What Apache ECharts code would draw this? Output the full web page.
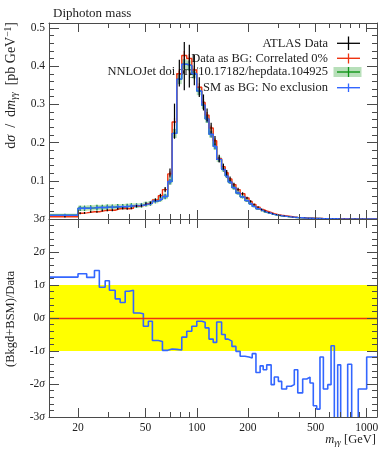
<!DOCTYPE html>
<html><head><meta charset="utf-8">
<script src="https://cdn.jsdelivr.net/npm/echarts@6/dist/echarts.min.js"></script>
<style>html,body{margin:0;padding:0;background:#fff}#c{width:389px;height:450px}</style>
</head><body><div id="c"></div>
<script>
// ---- data ----
const binEdges = [13.5, 20, 21.2, 22.5, 25, 26.7, 28.9, 30.6, 33.1, 35.4, 37.9, 40, 42.4, 46, 48.5, 51.9, 54.8, 59.4, 62.8, 67.5, 71.6, 76.3, 81.6, 87.3, 93.5, 100, 107, 112, 118, 125, 131, 140, 147, 153, 161, 170, 180, 192, 203, 212, 223, 236, 246, 258, 274, 286, 302, 316, 338, 359, 375, 393, 420, 444, 464, 485, 508, 531, 556, 590, 617, 645, 675, 703, 773, 816, 892, 1000, 1150];
const atlasData = [0.006, 0.015, 0.016, 0.019, 0.019, 0.022, 0.023, 0.023, 0.027, 0.028, 0.027, 0.028, 0.034, 0.035, 0.040, 0.042, 0.050, 0.061, 0.077, 0.120, 0.256, 0.382, 0.400, 0.400, 0.390, 0.345, 0.305, 0.272, 0.238, 0.205, 0.158, 0.137, 0.121, 0.105, 0.090, 0.077, 0.066, 0.055, 0.046, 0.038, 0.031, 0.025, 0.021, 0.017, 0.014, 0.0115, 0.0097, 0.0081, 0.0065, 0.0053, 0.0043, 0.0036, 0.0029, 0.0024, 0.0021, 0.0018, 0.0016, 0.0012, 0.0011, 0.0009, 0.0007, 0.0007, 0.0005, 0.00048, 0.00035, 0.00032, 0.00024, 0.00018];
const atlasErr = [0.002, 0.0025, 0.0025, 0.0025, 0.0025, 0.0025, 0.0025, 0.0025, 0.0025, 0.0025, 0.0025, 0.0025, 0.003, 0.003, 0.003, 0.003, 0.004, 0.005, 0.007, 0.012, 0.046, 0.035, 0.063, 0.056, 0.040, 0.026, 0.021, 0.017, 0.014, 0.012, 0.010, 0.008, 0.007, 0.006, 0.005, 0.0045, 0.004, 0.0035, 0.003, 0.0025, 0.0022, 0.002, 0.0018, 0.0015, 0.0013, 0.0011, 0.001, 0.0009, 0.0008, 0.0007, 0.0006, 0.0005, 0.0005, 0.0004, 0.0004, 0.0004, 0.0003, 0.0003, 0.0003, 0.0003, 0.0003, 0.0003, 0.0002, 0.0002, 0.0002, 0.0002, 0.0002, 0.0001];
const dataAsBG = [0.006, 0.015, 0.016, 0.019, 0.019, 0.022, 0.023, 0.023, 0.027, 0.028, 0.027, 0.028, 0.034, 0.035, 0.040, 0.042, 0.050, 0.061, 0.077, 0.118, 0.254, 0.380, 0.428, 0.420, 0.390, 0.345, 0.305, 0.272, 0.238, 0.205, 0.158, 0.137, 0.121, 0.105, 0.090, 0.077, 0.066, 0.055, 0.046, 0.038, 0.031, 0.025, 0.021, 0.017, 0.014, 0.0115, 0.0097, 0.0081, 0.0065, 0.0053, 0.0043, 0.0036, 0.0029, 0.0024, 0.0021, 0.0018, 0.0016, 0.0012, 0.0011, 0.0009, 0.0007, 0.0007, 0.0005, 0.00048, 0.00035, 0.00032, 0.00024, 0.00018];
const dataAsBGErr = [0.001, 0.0015, 0.0015, 0.0015, 0.0015, 0.0015, 0.0015, 0.0015, 0.0015, 0.0015, 0.0015, 0.0015, 0.002, 0.002, 0.002, 0.002, 0.002, 0.003, 0.004, 0.006, 0.010, 0.012, 0.012, 0.012, 0.011, 0.010, 0.009, 0.008, 0.007, 0.006, 0.005, 0.004, 0.004, 0.003, 0.003, 0.002, 0.002, 0.002, 0.0015, 0.0015, 0.001, 0.001, 0.001, 0.0008, 0.0007, 0.0006, 0.0005, 0.0004, 0.0004, 0.0003, 0.0003, 0.0003, 0.0002, 0.0002, 0.0002, 0.0002, 0.0001, 0.0001, 0.0001, 0.0001, 0.0001, 0.0001, 0.0001, 0.0001, 0.0001, 0.0001, 0.0001, 0.0001];
const nnlojet = [0.010, 0.028, 0.028, 0.029, 0.030, 0.030, 0.031, 0.031, 0.032, 0.032, 0.033, 0.034, 0.035, 0.036, 0.039, 0.041, 0.047, 0.052, 0.059, 0.098, 0.224, 0.366, 0.405, 0.402, 0.380, 0.335, 0.298, 0.262, 0.222, 0.190, 0.156, 0.130, 0.113, 0.097, 0.082, 0.068, 0.058, 0.048, 0.040, 0.033, 0.027, 0.022, 0.018, 0.015, 0.012, 0.010, 0.0085, 0.0070, 0.0056, 0.0046, 0.0038, 0.0031, 0.0025, 0.0021, 0.0018, 0.0015, 0.0013, 0.0011, 0.0009, 0.00075, 0.00065, 0.00055, 0.00045, 0.00038, 0.0003, 0.00025, 0.0002, 0.00015];
const nnlojetErr = [0.004, 0.007, 0.007, 0.007, 0.007, 0.007, 0.007, 0.007, 0.007, 0.007, 0.007, 0.007, 0.006, 0.006, 0.006, 0.006, 0.006, 0.006, 0.007, 0.008, 0.012, 0.013, 0.013, 0.013, 0.012, 0.011, 0.010, 0.010, 0.009, 0.008, 0.007, 0.006, 0.006, 0.005, 0.005, 0.004, 0.004, 0.003, 0.003, 0.0025, 0.002, 0.002, 0.0015, 0.0015, 0.0012, 0.001, 0.0009, 0.0008, 0.0007, 0.0006, 0.0005, 0.0004, 0.0004, 0.0003, 0.0003, 0.0003, 0.0002, 0.0002, 0.0002, 0.0002, 0.0001, 0.0001, 0.0001, 0.0001, 0.0001, 0.0001, 0.0001, 0.0001];
const smAsBG = [0.010, 0.028, 0.028, 0.029, 0.030, 0.030, 0.031, 0.031, 0.032, 0.032, 0.033, 0.034, 0.035, 0.036, 0.039, 0.041, 0.047, 0.052, 0.059, 0.098, 0.224, 0.366, 0.405, 0.402, 0.380, 0.335, 0.298, 0.262, 0.222, 0.190, 0.156, 0.130, 0.113, 0.097, 0.082, 0.068, 0.058, 0.048, 0.040, 0.033, 0.027, 0.022, 0.018, 0.015, 0.012, 0.010, 0.0085, 0.0070, 0.0056, 0.0046, 0.0038, 0.0031, 0.0025, 0.0021, 0.0018, 0.0015, 0.0013, 0.0011, 0.0009, 0.00075, 0.00065, 0.00055, 0.00045, 0.00038, 0.0003, 0.00025, 0.0002, 0.00015];
const smAsBGErr = [0.003, 0.005, 0.005, 0.005, 0.005, 0.005, 0.005, 0.005, 0.005, 0.005, 0.005, 0.005, 0.005, 0.005, 0.005, 0.005, 0.005, 0.005, 0.006, 0.007, 0.011, 0.012, 0.012, 0.012, 0.011, 0.010, 0.009, 0.009, 0.008, 0.007, 0.006, 0.005, 0.005, 0.004, 0.004, 0.003, 0.003, 0.0025, 0.0025, 0.002, 0.0018, 0.0015, 0.0012, 0.001, 0.001, 0.0008, 0.0007, 0.0006, 0.0005, 0.0005, 0.0004, 0.0004, 0.0003, 0.0003, 0.0003, 0.0002, 0.0002, 0.0002, 0.0002, 0.0001, 0.0001, 0.0001, 0.0001, 0.0001, 0.0001, 0.0001, 0.0001, 0.0001];
const significance = [1.24, 1.34, 1.34, 1.23, 1.44, 0.93, 1.13, 0.84, 0.58, 0.47, 0.81, 0.84, 0.15, 0.13, -0.25, -0.10, -0.68, -0.71, -0.98, -0.94, -0.95, -0.97, -0.58, -0.40, -0.25, -0.10, -0.13, -0.30, -0.64, -0.74, -0.12, -0.50, -0.64, -0.70, -0.86, -1.01, -1.16, -1.18, -1.21, -1.08, -1.65, -1.45, -1.57, -1.42, -2.02, -1.79, -1.92, -2.15, -2.07, -2.02, -1.57, -2.27, -1.85, -1.79, -1.97, -2.66, -2.76, -1.18, -2.15, -2.02, -0.84, -3.5, -1.42, -3.5, -1.40, -3.5, -2.15, -1.18];
const xLabelValues = [20, 50, 100, 200, 500, 1000];
const xMajorTicks = [20, 50, 100, 200, 500, 1000];
const xMinorTicks = [30, 40, 60, 70, 80, 90, 300, 400, 600, 700, 800, 900];
const yTopLabels = [0.1, 0.2, 0.3, 0.4, 0.5];
const yTopMajor = [0, 0.1, 0.2, 0.3, 0.4, 0.5];
const yBotLabels = [-3, -2, -1, 0, 1, 2, 3];
const legendNames = ['ATLAS Data', 'Data as BG: Correlated 0%', 'NNLOJet doi.org/10.17182/hepdata.104925', 'SM as BG: No exclusion'];

// ---- styling ----
const X_MIN = 13.5, X_MAX = 1150, Y_TOP_MAX = 0.513;
const FONT = '"Liberation Serif", "DejaVu Serif", serif';
const AX = '#4a4a4a';
const RED = '#EE3311', BLUE = '#3366FF', GREEN = '#109618', BLACK = '#000000';

const yTopMinor = []; for (let k = 1; k <= 25; k++) { if (k % 5) yTopMinor.push(+(k * 0.02).toFixed(2)); }
const yBotMinor = []; for (let k = -15; k <= 15; k++) { if (k % 5) yBotMinor.push(+(k * 0.2).toFixed(1)); }

function steps(vals) {
  const pts = [];
  vals.forEach((v, i) => { pts.push([binEdges[i], v]); pts.push([binEdges[i + 1], v]); });
  return pts;
}
function xAx(grid, pos, ticks, len, showLine, labels) {
  return {
    type: 'log', logBase: 10, gridIndex: grid, position: pos, min: X_MIN, max: X_MAX, z: 5,
    axisLine: { show: showLine, onZero: false, lineStyle: { color: AX, width: 1 } },
    axisTick: { show: true, inside: true, length: len, customValues: ticks, lineStyle: { color: AX, width: 1 } },
    axisLabel: labels ? { show: true, customValues: labels, margin: 5, fontFamily: FONT, fontSize: 11.5, color: '#222', formatter: v => String(Math.round(v)) } : { show: false },
    splitLine: { show: false }, minorTick: { show: false }
  };
}
function yAx(grid, pos, min, max, ticks, len, showLine, labelCfg) {
  return {
    type: 'value', gridIndex: grid, position: pos, min: min, max: max, z: 5,
    axisLine: { show: showLine, onZero: false, lineStyle: { color: AX, width: 1 } },
    axisTick: { show: true, inside: true, length: len, customValues: ticks, lineStyle: { color: AX, width: 1 } },
    axisLabel: labelCfg || { show: false },
    splitLine: { show: false }, minorTick: { show: false }
  };
}
function errBars(name, vals, errs, color, width, z) {
  return {
    name, type: 'custom', xAxisIndex: 0, yAxisIndex: 0, z, silent: true, clip: true,
    data: vals.map((v, i) => [(binEdges[i] + binEdges[i + 1]) / 2, v - errs[i], v + errs[i]]),
    encode: { x: 0, y: [1, 2] },
    renderItem: (p, api) => {
      const a = api.coord([api.value(0), api.value(1)]);
      const b = api.coord([api.value(0), api.value(2)]);
      return { type: 'line', shape: { x1: a[0], y1: a[1], x2: b[0], y2: b[1] }, style: { stroke: color, lineWidth: width } };
    }
  };
}
function stepLine(name, vals, color, z, xi, yi) {
  return { name, type: 'line', xAxisIndex: xi, yAxisIndex: yi, z, data: steps(vals), showSymbol: false, symbol: 'none', silent: true, clip: true,
    lineStyle: { color, width: 1.4 }, itemStyle: { color } };
}

const chart = echarts.init(document.getElementById('c'), null, { renderer: 'canvas' });
const sub = { fontFamily: FONT, fontStyle: 'italic', fontSize: 9.5, lineHeight: 9, verticalAlign: 'bottom', fill: '#222', color: '#222' };
const option = {
  animation: false,
  backgroundColor: '#ffffff',
  title: { text: 'Diphoton mass', left: 48, top: 2, textStyle: { fontFamily: FONT, fontSize: 13, fontWeight: 'normal', color: '#222' } },
  grid: [
    { left: 49, top: 23, width: 328, height: 196 },
    { left: 49, top: 219, width: 328, height: 198 }
  ],
  xAxis: [
    xAx(0, 'bottom', xMajorTicks, 9, true), xAx(0, 'bottom', xMinorTicks, 5, false),
    xAx(0, 'top', xMajorTicks, 9, true), xAx(0, 'top', xMinorTicks, 5, false),
    xAx(1, 'bottom', xMajorTicks, 9, true, xLabelValues), xAx(1, 'bottom', xMinorTicks, 5, false),
    xAx(1, 'top', xMajorTicks, 9, false), xAx(1, 'top', xMinorTicks, 5, false)
  ],
  yAxis: [
    yAx(0, 'left', 0, Y_TOP_MAX, yTopMajor, 10, true, { show: true, customValues: yTopLabels, margin: 4, fontFamily: FONT, fontSize: 11.5, color: '#222', formatter: v => v.toFixed(1) }),
    yAx(0, 'left', 0, Y_TOP_MAX, yTopMinor, 5, false),
    yAx(0, 'right', 0, Y_TOP_MAX, yTopMajor, 10, true),
    yAx(0, 'right', 0, Y_TOP_MAX, yTopMinor, 5, false),
    yAx(1, 'left', -3, 3, yBotLabels, 10, true, { show: true, customValues: yBotLabels, margin: 4, color: '#222',
      formatter: v => '{n|' + Math.round(v) + '}{s|σ}',
      rich: { n: { fontFamily: FONT, fontSize: 11.5, color: '#222' }, s: { fontFamily: FONT, fontStyle: 'italic', fontSize: 11.5, color: '#222' } } }),
    yAx(1, 'left', -3, 3, yBotMinor, 5, false),
    yAx(1, 'right', -3, 3, yBotLabels, 10, true),
    yAx(1, 'right', -3, 3, yBotMinor, 5, false)
  ],
  series: [
    {
      name: 'NNLOJet band', type: 'custom', xAxisIndex: 0, yAxisIndex: 0, z: 1, silent: true, clip: true,
      data: nnlojet.map((v, i) => [binEdges[i], binEdges[i + 1], v - nnlojetErr[i], v + nnlojetErr[i]]),
      encode: { x: [0, 1], y: [2, 3] },
      renderItem: (p, api) => {
        const a = api.coord([api.value(0), api.value(3)]);
        const b = api.coord([api.value(1), api.value(2)]);
        return { type: 'rect', shape: { x: a[0], y: a[1], width: b[0] - a[0], height: b[1] - a[1] }, style: { fill: 'rgba(16,150,24,0.3)' } };
      }
    },
    stepLine(legendNames[2], nnlojet, GREEN, 2, 0, 0),
    errBars('NNLOJet err', nnlojet, nnlojetErr, GREEN, 1.2, 2),
    stepLine(legendNames[1], dataAsBG, RED, 3, 0, 0),
    errBars('Data as BG err', dataAsBG, dataAsBGErr, RED, 1.2, 3),
    stepLine(legendNames[3], smAsBG, BLUE, 4, 0, 0),
    errBars('SM err', smAsBG, smAsBGErr, BLUE, 1.2, 4),
    errBars(legendNames[0], atlasData, atlasErr, BLACK, 1.2, 6),
    {
      name: 'Significance', type: 'line', xAxisIndex: 4, yAxisIndex: 4, z: 3, data: steps(significance), showSymbol: false, symbol: 'none', silent: true, clip: true,
      lineStyle: { color: BLUE, width: 1.6 },
      markArea: { silent: true, itemStyle: { color: '#FFFF00' }, data: [[{ yAxis: -1 }, { yAxis: 1 }]] },
      markLine: { silent: true, symbol: 'none', label: { show: false }, lineStyle: { color: RED, width: 1.4, type: 'solid' }, data: [{ yAxis: 0 }] }
    }
  ],
  graphic: [
    // y-axis title, top panel
    { type: 'text', x: 11, y: 22, rotation: Math.PI / 2, silent: true,
      style: { text: '{r|d}{i|σ}{r|  /  d}{i|m}{sb|γγ}{r|  [pb GeV}{sp|−1}{r|]}', align: 'right', verticalAlign: 'middle', textAlign: 'right', textVerticalAlign: 'middle',
        rich: { r: { fontFamily: FONT, fontSize: 14, lineHeight: 16, fill: '#222', color: '#222' }, i: { fontFamily: FONT, fontStyle: 'italic', fontSize: 14, lineHeight: 16, fill: '#222', color: '#222' },
          sb: sub, sp: Object.assign({}, sub, { fontStyle: 'normal', verticalAlign: 'top' }) } } },
    // y-axis title, ratio panel
    { type: 'text', x: 11, y: 319, rotation: Math.PI / 2, silent: true,
      style: { text: '(Bkgd+BSM)/Data', font: '12.5px ' + FONT, fill: '#222', align: 'center', verticalAlign: 'middle', textAlign: 'center', textVerticalAlign: 'middle' } },
    // x-axis title
    { type: 'text', x: 376, y: 440, silent: true,
      style: { text: '{i|m}{sb|γγ}{r| [GeV]}', align: 'right', verticalAlign: 'middle', textAlign: 'right', textVerticalAlign: 'middle',
        rich: { r: { fontFamily: FONT, fontSize: 12.5, lineHeight: 15, fill: '#222', color: '#222' }, i: { fontFamily: FONT, fontStyle: 'italic', fontSize: 12.5, lineHeight: 15, fill: '#222', color: '#222' }, sb: Object.assign({}, sub, { fontSize: 8.5, lineHeight: 8 }) } } },
    // legend
    { type: 'group', silent: true, children: [
      { type: 'text', x: 328, y: 43.3, style: { text: legendNames[0], font: '12.5px ' + FONT, fill: '#222', align: 'right', verticalAlign: 'middle', textAlign: 'right', textVerticalAlign: 'middle' } },
      { type: 'line', shape: { x1: 337, y1: 43.3, x2: 360, y2: 43.3 }, style: { stroke: BLACK, lineWidth: 1.3 } },
      { type: 'line', shape: { x1: 348.5, y1: 36.5, x2: 348.5, y2: 50 }, style: { stroke: BLACK, lineWidth: 1.3 } },

      { type: 'text', x: 328, y: 58.3, style: { text: legendNames[1], font: '12.5px ' + FONT, fill: '#222', align: 'right', verticalAlign: 'middle', textAlign: 'right', textVerticalAlign: 'middle' } },
      { type: 'line', shape: { x1: 337, y1: 58.3, x2: 360, y2: 58.3 }, style: { stroke: RED, lineWidth: 1.4 } },
      { type: 'line', shape: { x1: 348.5, y1: 53.5, x2: 348.5, y2: 63.5 }, style: { stroke: RED, lineWidth: 1.3 } },

      { type: 'text', x: 328, y: 72, style: { text: legendNames[2], font: '12.5px ' + FONT, fill: '#222', align: 'right', verticalAlign: 'middle', textAlign: 'right', textVerticalAlign: 'middle' } },
      { type: 'rect', shape: { x: 333.5, y: 67, width: 28, height: 10 }, style: { fill: 'rgba(16,150,24,0.3)' } },
      { type: 'line', shape: { x1: 337, y1: 72, x2: 360, y2: 72 }, style: { stroke: GREEN, lineWidth: 1.4 } },
      { type: 'line', shape: { x1: 348.5, y1: 67, x2: 348.5, y2: 77 }, style: { stroke: GREEN, lineWidth: 1.3 } },

      { type: 'text', x: 328, y: 87.7, style: { text: legendNames[3], font: '12.5px ' + FONT, fill: '#222', align: 'right', verticalAlign: 'middle', textAlign: 'right', textVerticalAlign: 'middle' } },
      { type: 'line', shape: { x1: 337, y1: 87.7, x2: 360, y2: 87.7 }, style: { stroke: BLUE, lineWidth: 1.4 } },
      { type: 'line', shape: { x1: 348.5, y1: 83.5, x2: 348.5, y2: 92 }, style: { stroke: BLUE, lineWidth: 1.3 } }
    ] }
  ]
};
chart.setOption(option);
</script>
</body></html>
